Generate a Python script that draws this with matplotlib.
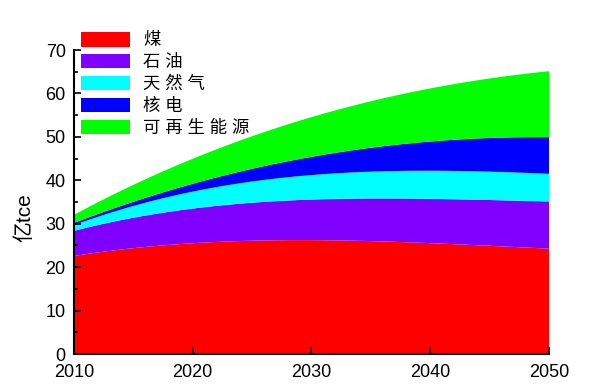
import numpy as np
import matplotlib.pyplot as plt
from matplotlib.ticker import MultipleLocator

plt.rcParams['font.family'] = ['Liberation Sans', 'Noto Sans CJK SC', 'DejaVu Sans']

years = [2010, 2015, 2020, 2025, 2030, 2035, 2040, 2045, 2050]
coal = [22.5, 24.5, 25.6, 26.0, 26.1, 26.0, 25.6, 25.0, 24.2]
oil = [5.8, 7.0, 7.9, 8.8, 9.4, 9.8, 10.2, 10.5, 10.9]
gas = [1.4, 2.5, 4.0, 4.9, 5.7, 6.2, 6.4, 6.5, 6.4]
nuclear = [0.5, 1.0, 1.8, 2.8, 4.3, 5.5, 6.8, 7.6, 8.5]
renewable = [2.1, 3.5, 5.7, 7.7, 9.3, 10.8, 12.0, 13.6, 15.3]

labels = ['煤', '石 油', '天 然 气', '核 电', '可 再 生 能 源']
colors = ['#ff0000', '#8000ff', '#00ffff', '#0000ff', '#00ff00']

fig = plt.figure(figsize=(5.9, 3.92), dpi=100)
ax = fig.add_axes([0.1254, 0.0969, 0.8051, 0.7755])

# smooth the curves between the read-off points
xs = np.linspace(years[0], years[-1], 200)
smooth = []
for s in [coal, oil, gas, nuclear, renewable]:
    c = np.polyfit(years, s, 3)
    smooth.append(np.polyval(c, xs))

ax.stackplot(xs, *smooth, colors=colors, labels=labels, linewidth=0)

ax.set_xlim(2010, 2050)
ax.set_ylim(0, 70)
ax.xaxis.set_major_locator(MultipleLocator(10))
ax.yaxis.set_major_locator(MultipleLocator(10))
ax.yaxis.set_minor_locator(MultipleLocator(5))
ax.tick_params(direction='in', labelsize=13, width=1.2, length=5, pad=6)
ax.tick_params(which='minor', direction='in', width=1.2, length=3)
ax.tick_params(axis='x', pad=7.5)
for side in ['top', 'right']:
    ax.spines[side].set_visible(False)
for side in ['left', 'bottom']:
    ax.spines[side].set_linewidth(1.5)
ax.set_ylabel('亿tce', fontsize=15)
ax.yaxis.label.set_va('center')
ax.yaxis.set_label_coords(-0.103, 0.45)

fig.legend(loc='upper left', bbox_to_anchor=(0.138, 0.918), frameon=False,
           handlelength=2.8, handleheight=0.9, labelspacing=0.32,
           handletextpad=0.75, borderpad=0, borderaxespad=0,
           prop={'family': ['Liberation Sans', 'Noto Sans CJK SC'], 'size': 12.5})

fig.savefig('out.png', dpi=100)
